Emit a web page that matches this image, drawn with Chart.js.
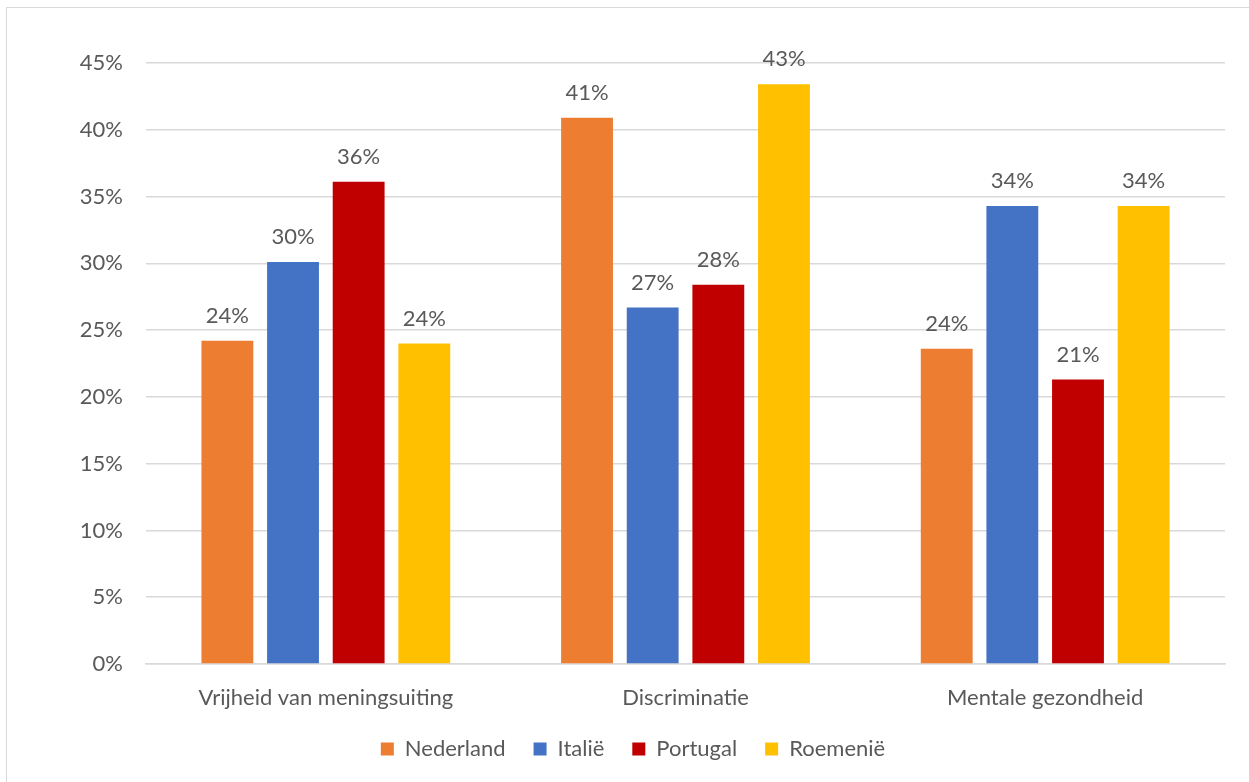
<!DOCTYPE html>
<html>
<head>
<meta charset="utf-8">
<script src="https://cdn.jsdelivr.net/npm/chart.js@4.4.1/dist/chart.umd.min.js"></script>
<style>
  html, body { margin: 0; padding: 0; background: #fff; }
  #wrap { position: relative; width: 1249px; height: 782px; overflow: hidden; }
  #frame { position: absolute; left: 6px; top: 7px; width: 1400px; height: 900px;
           border-top: 1px solid #d9d9d9; border-left: 1px solid #d9d9d9; }
  canvas { position: absolute; left: 0; top: 0; }
</style>
</head>
<body>
<div id="wrap">
  <div id="frame"></div>
  <canvas id="chart" width="1249" height="782"></canvas>
</div>
<script>
// --- data ---
const categories = ['Vrijheid van meningsuiting', 'Discriminatie', 'Mentale gezondheid'];
const nederland = [24.2, 40.9, 23.6];
const italie = [30.1, 26.7, 34.3];
const portugal = [36.1, 28.4, 21.3];
const roemenie = [24.0, 43.4, 34.3];
const yTicks = [0, 5, 10, 15, 20, 25, 30, 35, 40, 45];

const FONT = "Lato, 'Open Sans', sans-serif";
const TEXT = '#595959';
const FS = 22;

// simple value labels above each bar
const barLabels = {
    id: 'barLabels',
    afterDatasetsDraw(chart) {
        const ctx = chart.ctx;
        ctx.save();
        ctx.font = FS + 'px ' + FONT;
        ctx.fillStyle = TEXT;
        ctx.textAlign = 'center';
        ctx.textBaseline = 'middle';
        chart.data.datasets.forEach((ds, i) => {
            chart.getDatasetMeta(i).data.forEach((bar, j) => {
                ctx.fillText(Math.round(ds.data[j]) + '%', bar.x, bar.y - 25);
            });
        });
        ctx.restore();
    }
};

const ctx = document.getElementById('chart').getContext('2d');
new Chart(ctx, {
    type: 'bar',
    data: {
        labels: categories,
        datasets: [
            { label: 'Nederland', data: nederland, backgroundColor: '#ED7D31' },
            { label: 'Italië', data: italie, backgroundColor: '#4472C4' },
            { label: 'Portugal', data: portugal, backgroundColor: '#C00000' },
            { label: 'Roemenië', data: roemenie, backgroundColor: '#FFC000' }
        ]
    },
    options: {
        responsive: false,
        animation: false,
        devicePixelRatio: 1,
        categoryPercentage: 0.73,
        barPercentage: 0.79,
        // left padding offsets the legend centre like the original
        layout: { padding: { top: 63, right: 24, left: 41, bottom: 12 } },
        plugins: {
            legend: {
                position: 'bottom',
                labels: {
                    font: { family: FONT, size: FS },
                    color: TEXT,
                    boxWidth: 13,
                    boxHeight: 13,
                    padding: 28
                }
            },
            tooltip: { enabled: false }
        },
        scales: {
            x: {
                grid: { display: false },
                border: { color: '#d9d9d9', width: 1.5 },
                ticks: { font: { family: FONT, size: FS }, color: TEXT, padding: 13 },
                afterFit(scale) { scale.height = 46; }
            },
            y: {
                min: 0,
                max: 45,
                afterBuildTicks(scale) { scale.ticks = yTicks.map(v => ({ value: v })); },
                grid: { color: '#d9d9d9', lineWidth: 1.5, drawTicks: false },
                border: { display: false },
                ticks: {
                    font: { family: FONT, size: FS },
                    color: TEXT,
                    padding: 23,
                    callback: v => v + '%'
                },
                afterFit(scale) { scale.width = 105; }
            }
        }
    },
    plugins: [barLabels]
});
</script>
</body>
</html>
